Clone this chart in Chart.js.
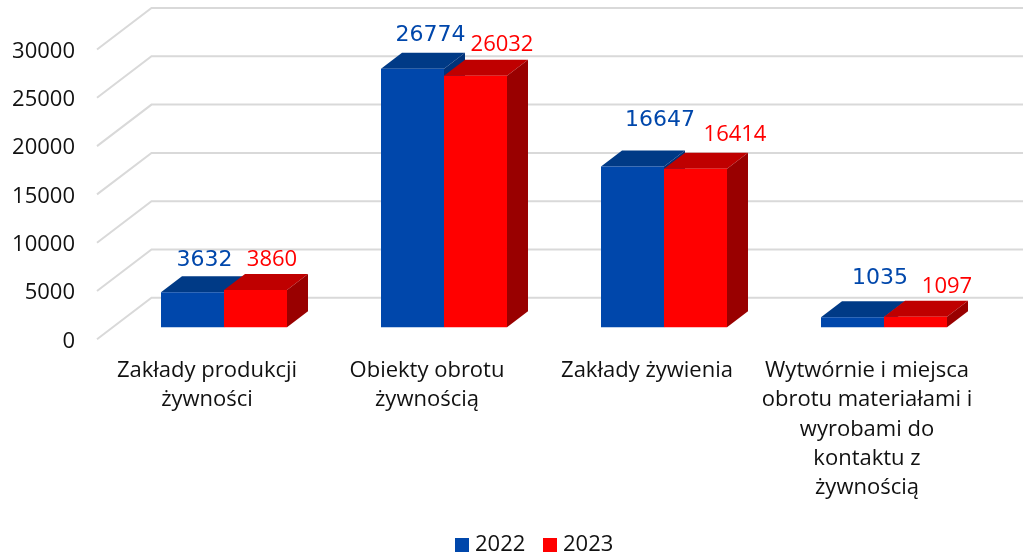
<!DOCTYPE html>
<html>
<head>
<meta charset="utf-8">
<style>
html, body { margin: 0; padding: 0; background: #fff; }
canvas { display: block; }
</style>
<script src="https://cdn.jsdelivr.net/npm/chart.js@4"></script>
</head>
<body>
<canvas id="chart" width="1023" height="556"></canvas>
<script>
const categories = [
    ["Zakłady produkcji", "żywności"],
    ["Obiekty obrotu", "żywnością"],
    ["Zakłady żywienia"],
    ["Wytwórnie i miejsca", "obrotu materiałami i", "wyrobami do", "kontaktu z", "żywnością"]
];
const values2022 = [3632, 26774, 16647, 1035];
const values2023 = [3860, 26032, 16414, 1097];
const yTicks = [0, 5000, 10000, 15000, 20000, 25000, 30000];

// hand placed labels in the original, offset from the front top centre of each bar
const labelOffsets = [
    [[12, -32], [16.5, -30]],
    [[18, -33], [26.5, -31]],
    [[27.5, -46], [39.5, -34]],
    [[27.5, -39], [31.5, -30]]
];

const textFont = '"Open Sans", sans-serif';
const labelFonts = ['22px "DejaVu Sans", sans-serif', '22px "Open Sans", sans-serif'];
// the scale sits 2px low so the tick text lines up, the marks are pulled back up by it
const tickNudge = 2;
const barShift = { x: 17, y: -12 - tickNudge };
const barDepth = { x: 21, y: -16 };
const wallDepth = { x: 54.5, y: -41.5 };

const faceColors = [
    { top: "#003a86", side: "#00337a" },
    { top: "#bf0000", side: "#990000" }
];

const fake3d = {
    id: "fake3d",
    beforeDatasetsDraw(chart) {
        const { ctx, chartArea, scales } = chart;
        ctx.save();
        ctx.strokeStyle = "#d9d9d9";
        ctx.lineWidth = 2;
        scales.y.ticks.forEach((tick) => {
            const py = scales.y.getPixelForValue(tick.value) - tickNudge;
            ctx.beginPath();
            ctx.moveTo(chartArea.left, py);
            ctx.lineTo(chartArea.left + wallDepth.x, py + wallDepth.y);
            ctx.lineTo(chart.width, py + wallDepth.y);
            ctx.stroke();
        });
        // top and side faces, 2022 first so that 2023 sits in front of it
        ctx.translate(barShift.x, barShift.y);
        chart.data.datasets.forEach((dataset, d) => {
            const colors = faceColors[d];
            chart.getDatasetMeta(d).data.forEach((bar) => {
                const left = bar.x - bar.width / 2;
                const right = bar.x + bar.width / 2;
                ctx.fillStyle = colors.top;
                ctx.beginPath();
                ctx.moveTo(left, bar.y);
                ctx.lineTo(left + barDepth.x, bar.y + barDepth.y);
                ctx.lineTo(right + barDepth.x, bar.y + barDepth.y);
                ctx.lineTo(right, bar.y);
                ctx.closePath();
                ctx.fill();
                ctx.fillStyle = colors.side;
                ctx.beginPath();
                ctx.moveTo(right, bar.y);
                ctx.lineTo(right + barDepth.x, bar.y + barDepth.y);
                ctx.lineTo(right + barDepth.x, bar.base + barDepth.y);
                ctx.lineTo(right, bar.base);
                ctx.closePath();
                ctx.fill();
            });
        });
        ctx.restore();
    },
    beforeDatasetDraw(chart) {
        chart.ctx.save();
        chart.ctx.translate(barShift.x, barShift.y);
    },
    afterDatasetDraw(chart) {
        chart.ctx.restore();
    },
    afterDatasetsDraw(chart) {
        const { ctx, data } = chart;
        ctx.save();
        ctx.textAlign = "center";
        ctx.textBaseline = "middle";
        data.datasets.forEach((dataset, d) => {
            ctx.fillStyle = dataset.backgroundColor;
            ctx.font = labelFonts[d];
            chart.getDatasetMeta(d).data.forEach((bar, i) => {
                const offset = labelOffsets[i][d];
                ctx.fillText(dataset.data[i], bar.x + barShift.x + offset[0], bar.y + barShift.y + offset[1]);
            });
        });
        // legend
        let x = 455;
        ctx.textAlign = "left";
        ctx.font = "22px " + textFont;
        data.datasets.forEach((dataset) => {
            ctx.fillStyle = dataset.backgroundColor;
            ctx.fillRect(x, 538, 14, 14);
            ctx.fillStyle = "#111";
            ctx.fillText(dataset.label, x + 20, 545);
            x += 88;
        });
        ctx.restore();
    }
};

new Chart(document.getElementById("chart"), {
    type: "bar",
    plugins: [fake3d],
    data: {
        labels: categories,
        datasets: [
            { label: "2022", data: values2022, backgroundColor: "#0047ab", clip: false },
            { label: "2023", data: values2023, backgroundColor: "#ff0000", clip: false }
        ]
    },
    options: {
        responsive: false,
        animation: false,
        layout: { autoPadding: false, padding: { left: 0, right: 46, top: 49.5 + tickNudge, bottom: 0 } },
        plugins: { legend: { display: false }, tooltip: { enabled: false } },
        datasets: { bar: { categoryPercentage: 0.5727, barPercentage: 1 } },
        scales: {
            x: {
                grid: { display: false },
                border: { display: false },
                afterFit(scale) { scale.height = 216.7 - tickNudge; },
                ticks: {
                    color: "#111",
                    font: { family: textFont, size: 22, lineHeight: 1.33 },
                    padding: 7,
                    maxRotation: 0,
                    autoSkip: false
                }
            },
            y: {
                min: 0,
                max: 30000,
                grid: { display: false },
                border: { display: false },
                afterFit(scale) { scale.width = 97; },
                afterBuildTicks(scale) { scale.ticks = yTicks.map((value) => ({ value })); },
                ticks: {
                    color: "#111",
                    font: { family: textFont, size: 22 },
                    padding: 14,
                    callback: (value) => String(value)
                }
            }
        }
    }
});
</script>
</body>
</html>
